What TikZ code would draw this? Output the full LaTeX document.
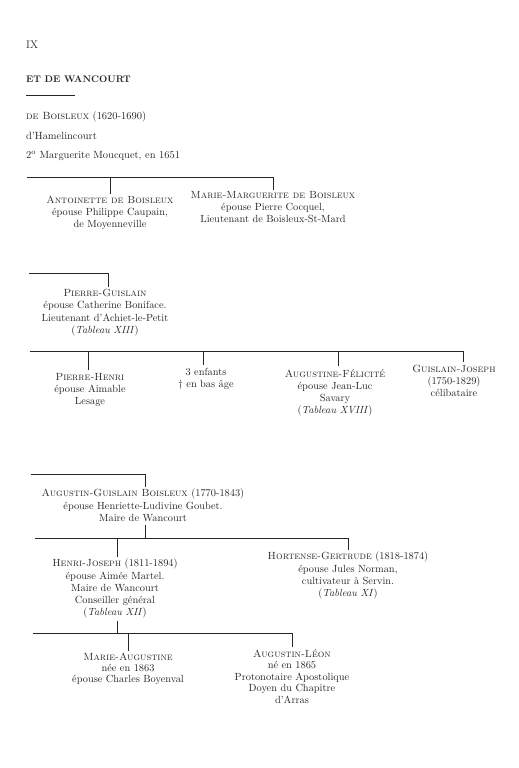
\documentclass[tikz,border=0pt]{standalone}
\usepackage{fontspec}
\newcommand{\inkfont}{\addfontfeature{FakeBold=0.35}}
\begin{document}
\begin{tikzpicture}[x=1bp,y=-1bp,
  bar/.style={line width=0.8bp, black!85},
  tick/.style={line width=0.7bp, black!85},
  person/.style={align=center, anchor=north, inner sep=0pt,
    font=\fontsize{10.4}{12.1}\selectfont\inkfont, text=black!85},
  head/.style={anchor=base west, inner sep=0pt,
    font=\fontsize{10.5}{12}\selectfont\inkfont, text=black!85}]
\useasboundingbox (0,0) rectangle (519,768);
\fill[white] (0,0) rectangle (519,768);

% heading
\node[head, font=\fontsize{11}{13}\selectfont\inkfont] (ix) at (26,49) {IX};
\node[head, font=\bfseries\fontsize{9.6}{12}\selectfont\addfontfeature{FakeBold=0.3}] (title) at (26,82) {ET DE WANCOURT};
\coordinate (r1) at (26,95);
\coordinate (r2) at (75,95);
\draw[tick] (r1) -- (r2);
\node[head] (h1) at (26,119) {\textsc{de Boisleux} (1620-1690)};
\node[head] (h2) at (26,139) {d'Hamelincourt};
\node[head] (h3) at (26,158) {2\textsuperscript{o} Marguerite Moucquet, en 1651};

% generation 1
\coordinate (b1l) at (27,177);
\coordinate (b1r) at (273,177);
\coordinate (b1a) at (110,177);
\draw[bar] (b1l) -- (b1r);
\node[person] (ant) at (110,196) {\textsc{Antoinette de Boisleux}\\ épouse Philippe Caupain,\\ de Moyenneville};
\node[person] (mm) at (273,191) {\textsc{Marie-Marguerite de Boisleux}\\ épouse Pierre Cocquel,\\ Lieutenant de Boisleux-St-Mard};
\draw[tick] (b1a) -- ([yshift=2bp]b1a |- ant.north);
\draw[tick] (b1r) -- ([yshift=1bp]b1r |- mm.north);

% Pierre-Guislain
\coordinate (b2l) at (29,273);
\coordinate (b2r) at (108,273);
\draw[bar] (b2l) -- (b2r);
\node[person, font=\fontsize{10.4}{12.5}\selectfont\inkfont] (pg) at (105,289) {\textsc{Pierre-Guislain}\\ épouse Catherine Boniface.\\ Lieutenant d'Achiet-le-Petit\\ (\textit{Tableau XIII})};
\draw[tick] (b2r) -- ([yshift=2bp]b2r |- pg.north);

% generation 3
\coordinate (b3l) at (30,351);
\coordinate (b3r) at (463,351);
\coordinate (b3a) at (88,351);
\coordinate (b3b) at (203,351);
\coordinate (b3c) at (338,351);
\draw[bar] (b3l) -- (b3r);
\node[person] (ph) at (90,373) {\textsc{Pierre-Henri}\\ épouse Aimable\\ Lesage};
\node[person] (enf) at (206,368) {3 enfants\\ \dag\ en bas âge};
\node[person] (af) at (335,369) {\textsc{Augustine-Félicité}\\ épouse Jean-Luc\\ Savary\\ (\textit{Tableau XVIII})};
\node[person] (gj) at (454,365) {\textsc{Guislain-Joseph}\\ (1750-1829)\\ célibataire};
\draw[tick] (b3a) -- ([yshift=3bp]b3a |- ph.north);
\draw[tick] (b3b) -- ([yshift=3bp]b3b |- enf.north);
\draw[tick] (b3c) -- ([yshift=3bp]b3c |- af.north);
\draw[tick] (b3r) -- ([yshift=3bp]b3r |- gj.north);

% Augustin-Guislain
\coordinate (b4l) at (31,474);
\coordinate (b4r) at (145,474);
\draw[bar] (b4l) -- (b4r);
\node[person] (ag) at (143,489) {\textsc{Augustin-Guislain Boisleux} (1770-1843)\\ épouse Henriette-Ludivine Goubet.\\ Maire de Wancourt};
\draw[tick] (b4r) -- ([yshift=2bp]b4r |- ag.north);

% generation 5
\coordinate (b5l) at (35,538);
\coordinate (b5r) at (348,538);
\coordinate (b5t) at (145,538);
\coordinate (b5a) at (117,538);
\draw[bar] (b5l) -- (b5r);
\draw[tick] ([yshift=-3bp]b5t |- ag.south) -- (b5t);
\node[person] (hj) at (115,559) {\textsc{Henri-Joseph} (1811-1894)\\ épouse Aimée Martel.\\ Maire de Wancourt\\ Conseiller général\\ (\textit{Tableau XII})};
\node[person] (hg) at (348,552) {\textsc{Hortense-Gertrude} (1818-1874)\\ épouse Jules Norman,\\ cultivateur à Servin.\\ (\textit{Tableau XI})};
\draw[tick] (b5a) -- ([yshift=2bp]b5a |- hj.north);
\draw[tick] (b5r) -- ([yshift=2bp]b5r |- hg.north);

% generation 6
\coordinate (b6l) at (33,633);
\coordinate (b6r) at (292,633);
\coordinate (b6t) at (117,633);
\coordinate (b6a) at (128,633);
\draw[bar] (b6l) -- (b6r);
\draw[tick] ([yshift=-3bp]b6t |- hj.south) -- (b6t);
\node[person, font=\fontsize{10.4}{11}\selectfont\inkfont] (ma) at (128,653) {\textsc{Marie-Augustine}\\ née en 1863\\ épouse Charles Boyenval};
\node[person, font=\fontsize{10.4}{11.5}\selectfont\inkfont] (al) at (292,649) {\textsc{Augustin-Léon}\\ né en 1865\\ Protonotaire Apostolique\\ Doyen du Chapitre\\ d'Arras};
\draw[tick] (b6a) -- ([yshift=2bp]b6a |- ma.north);
\draw[tick] (b6r) -- ([yshift=2bp]b6r |- al.north);
\end{tikzpicture}
\end{document}
